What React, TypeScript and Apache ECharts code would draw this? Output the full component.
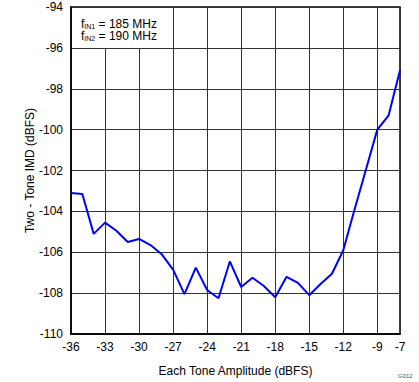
import React, { useEffect, useRef } from "react";
import * as echarts from "echarts";

const amplitudes = [-36, -35, -34, -33, -32, -31, -30, -29, -28, -27, -26, -25, -24, -23, -22, -21, -20, -19, -18, -17, -16, -15, -14, -13, -12, -11, -10, -9, -8, -7];
const imd = [-103.1, -103.15, -105.1, -104.55, -104.95, -105.5, -105.35, -105.65, -106.1, -106.85, -108.05, -106.75, -107.85, -108.25, -106.45, -107.7, -107.25, -107.65, -108.2, -107.2, -107.5, -108.1, -107.55, -107.05, -105.9, -103.9, -101.95, -100.0, -99.3, -97.1];
const xTickLabels = [-36, -33, -30, -27, -24, -21, -18, -15, -12, -9, -7];
const annotationLines = [
  { sub: "IN1", value: " = 185 MHz" },
  { sub: "IN2", value: " = 190 MHz" },
];

const FONT = "'Liberation Sans', Arial, sans-serif";

export default function App() {
  const ref = useRef<HTMLDivElement>(null);
  useEffect(() => {
    if (!ref.current) return;
    const chart = echarts.init(ref.current, null, { renderer: "svg" });
    chart.setOption({
      animation: false,
      backgroundColor: "#ffffff",
      grid: {
        left: 71,
        right: 19,
        top: 7,
        bottom: 46,
        show: true,
        borderColor: "#000000",
        borderWidth: 1.5,
        backgroundColor: "transparent",
      },
      xAxis: {
        type: "value",
        min: -36,
        max: -7,
        interval: 3,
        name: "Each Tone Amplitude (dBFS)",
        nameLocation: "middle",
        nameGap: 31,
        nameMoveOverlap: false,
        nameTextStyle: { fontFamily: FONT, fontSize: 12, color: "#000" },
        axisLine: { show: true, lineStyle: { color: "#000", width: 1.5 } },
        axisTick: { show: false },
        axisLabel: {
          customValues: xTickLabels,
          fontFamily: FONT,
          fontSize: 12,
          color: "#000",
          margin: 7,
        },
        splitLine: { show: true, lineStyle: { color: "#333333", width: 1 } },
      },
      yAxis: {
        type: "value",
        min: -110,
        max: -94,
        interval: 2,
        name: "Two - Tone IMD (dBFS)",
        nameLocation: "middle",
        nameGap: 35,
        nameMoveOverlap: false,
        nameTextStyle: { fontFamily: FONT, fontSize: 12, color: "#000" },
        axisLine: { show: true, lineStyle: { color: "#000", width: 1.5 } },
        axisTick: { show: false },
        axisLabel: { fontFamily: FONT, fontSize: 12, color: "#000", margin: 8, padding: [6, 0, 0, 0] },
        splitLine: { show: true, lineStyle: { color: "#333333", width: 1 } },
      },
      series: [
        {
          type: "line",
          data: amplitudes.map((a, i) => [a, imd[i]]),
          showSymbol: false,
          lineStyle: { color: "#0000ff", width: 2 },
          z: 5,
        },
      ],
      graphic: [
        {
          type: "rect",
          shape: { x: 72, y: 8, width: 88, height: 40 },
          style: { fill: "#ffffff" },
          z: 10,
        },
        ...annotationLines.map((l, i) => ({
          type: "text",
          x: 81,
          y: 17.5 + i * 12.5,
          z: 11,
          style: {
            text: `{f|f}{s|${l.sub}}{f|${l.value}}`,
            rich: {
              f: { fontFamily: FONT, fontSize: 12, fill: "#000", lineHeight: 12, verticalAlign: "bottom" },
              s: { fontFamily: FONT, fontSize: 7, fill: "#000", lineHeight: 12, verticalAlign: "bottom" },
            },
          },
        })),
        {
          type: "text",
          x: 398,
          y: 373,
          style: { text: "G012", fontFamily: FONT, fontSize: 6, fill: "#555", align: "left" },
        },
      ],
    });
    return () => chart.dispose();
  }, []);
  return (
    <div style={{ position: "fixed", left: 0, top: 0, width: 419, height: 382, background: "#fff" }}>
      <div ref={ref} style={{ width: 419, height: 382 }} />
    </div>
  );
}
